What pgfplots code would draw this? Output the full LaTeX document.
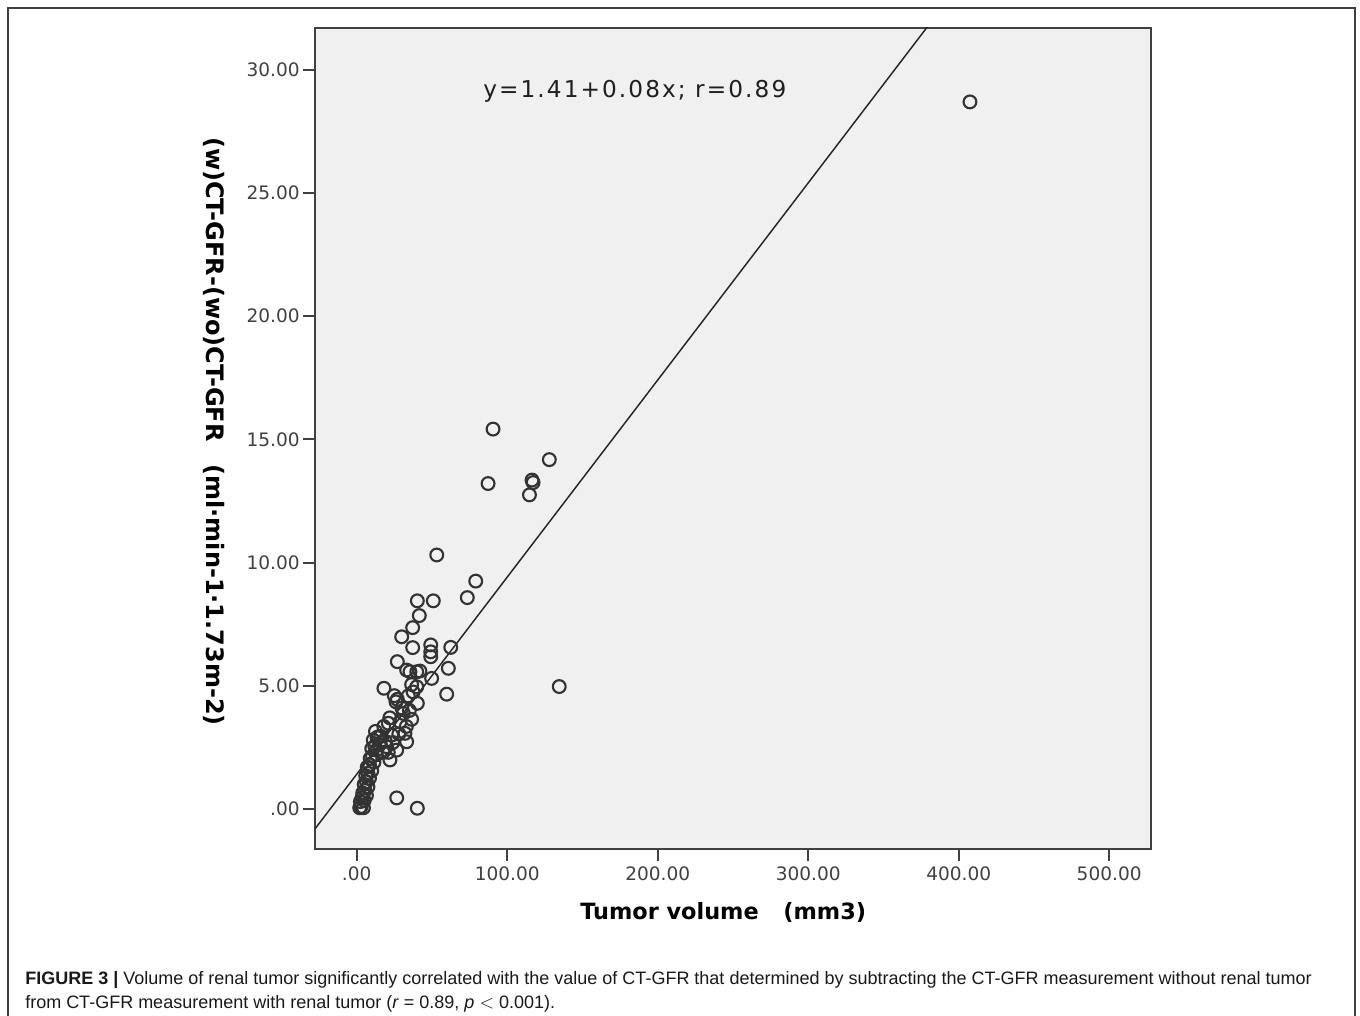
\documentclass[border=0pt]{standalone}
\usepackage{pgfplots}
\pgfplotsset{compat=1.18}
\usepackage{fontspec}
\setmainfont{DejaVu Sans}
\newfontfamily\capfont{Liberation Sans}
\begin{document}
\begin{tikzpicture}
\useasboundingbox (0,0) rectangle (1020pt,-762pt);
\draw[line width=1.1pt, black!75] (6pt,-763pt) -- (6pt,-6pt) -- (1016.25pt,-6pt) -- (1016.25pt,-763pt);
\begin{axis}[
  at={(236.25pt,-636.75pt)}, anchor=south west,
  scale only axis, width=627pt, height=615.75pt,
  xmin=-27.7, xmax=527.8, ymin=-1.624, ymax=31.70,
  axis background/.style={fill=black!6},
  axis line style={black!75, line width=1.5pt},
  xtick={0,100,200,300,400,500},
  xticklabels={.00,100.00,200.00,300.00,400.00,500.00},
  ytick={0,5,10,15,20,25,30},
  yticklabels={.00,5.00,10.00,15.00,20.00,25.00,30.00},
  tick align=outside, xtick pos=lower, ytick pos=left,
  major tick length=9pt,
  tick style={black!75, line width=1.5pt},
  tick label style={font=\fontsize{13.9pt}{16pt}\selectfont, text=black!75},
  xticklabel style={yshift=-1pt},
  yticklabel style={xshift=1pt},
  clip=true,
]
\addplot[black!85, line width=1.1pt] coordinates {(-27.7,-0.806) (527.8,43.634)};
\addplot[only marks, mark=o, mark size=4.8pt, mark options={black!80, line width=1.6pt}] coordinates {
(407.5,28.7) (90.6,15.42) (128.0,14.18) (116.5,13.35) (117.2,13.25) (87.3,13.21) (114.8,12.75)
(134.6,4.97) (53.2,10.31) (79.1,9.25) (73.5,8.58) (40.3,8.45) (50.9,8.45) (41.6,7.85)
(37.2,7.36) (29.9,6.99) (37.2,6.55) (49.2,6.66) (49.2,6.38) (49.2,6.18) (62.5,6.56)
(27.0,5.98) (33.2,5.64) (35.4,5.57) (39.9,5.57) (49.8,5.30) (60.9,5.71) (59.8,4.66)
(18.1,4.90) (26.1,4.35) (34.3,4.59) (39.9,4.96) (40.3,4.29) (31.0,3.88) (36.5,3.64)
(21.0,3.48) (28.8,3.54) (14.4,2.93) (23.3,3.00) (32.1,3.07) (33.2,2.73) (19.9,2.53)
(26.6,2.39) (22.1,1.99) (13.3,2.39) (26.6,0.45) (40.3,0.03)
(2.0,0.05) (3.0,0.10) (4.5,0.05) (2.5,0.30) (3.5,0.45) (5.0,0.35) (4.0,0.65) (5.5,0.75)
(6.5,0.55) (5.0,1.00) (6.5,1.10) (7.5,0.90) (6.0,1.35) (7.5,1.45) (8.5,1.25) (7.0,1.70)
(8.5,1.80) (10.0,1.55) (9.0,2.05) (10.5,2.15) (11.5,1.90) (10.0,2.45) (12.0,2.55) (13.0,2.20)
(11.0,2.80) (13.5,2.90) (15.0,2.60) (16.0,2.95) (12.5,3.15)
(17.5,2.30) (19.0,2.75) (21.0,2.30) (24.0,2.70) (18.0,3.35) (28.0,3.05) (30.0,4.10)
(25.0,4.60) (27.0,4.45) (22.0,3.70) (33.0,3.35) (35.0,4.00) (36.5,5.05) (37.5,4.75) (42.0,5.60)
};
\end{axis}
% annotation
\node[anchor=base west, inner sep=0pt, text=black!88, font=\fontsize{17.4pt}{20pt}\selectfont\addfontfeatures{LetterSpace=9}] at (362.25pt,-73.05pt) {y=1.41+0.08x; r=0.89};
% x label
\node[anchor=base west, inner sep=0pt, font=\fontsize{16.8pt}{20pt}\selectfont\bfseries] at (435pt,-689.6pt) {Tumor volume\hspace{1.1em}(mm3)};
% y label
\node[anchor=base, rotate=-90, inner sep=0pt, font=\fontsize{18pt}{20pt}\selectfont\bfseries] at (154.5pt,-323.6pt) {(w)CT-GFR-(wo)CT-GFR\hspace{0.95em}(ml·min-1·1.73m-2)};
% caption
\node[anchor=base west, inner sep=0pt, text=black!90, font=\capfont\fontsize{13.5pt}{15pt}\selectfont] at (18.75pt,-738pt) {\textbf{FIGURE 3 |} Volume of renal tumor significantly correlated with the value of CT-GFR that determined by subtracting the CT-GFR measurement without renal tumor};
\node[anchor=base west, inner sep=0pt, text=black!90, font=\capfont\fontsize{13.5pt}{15pt}\selectfont] at (18.75pt,-756pt) {from CT-GFR measurement with renal tumor (\textit{r} = 0.89, \textit{p} $<$ 0.001).};
\end{tikzpicture}
\end{document}
